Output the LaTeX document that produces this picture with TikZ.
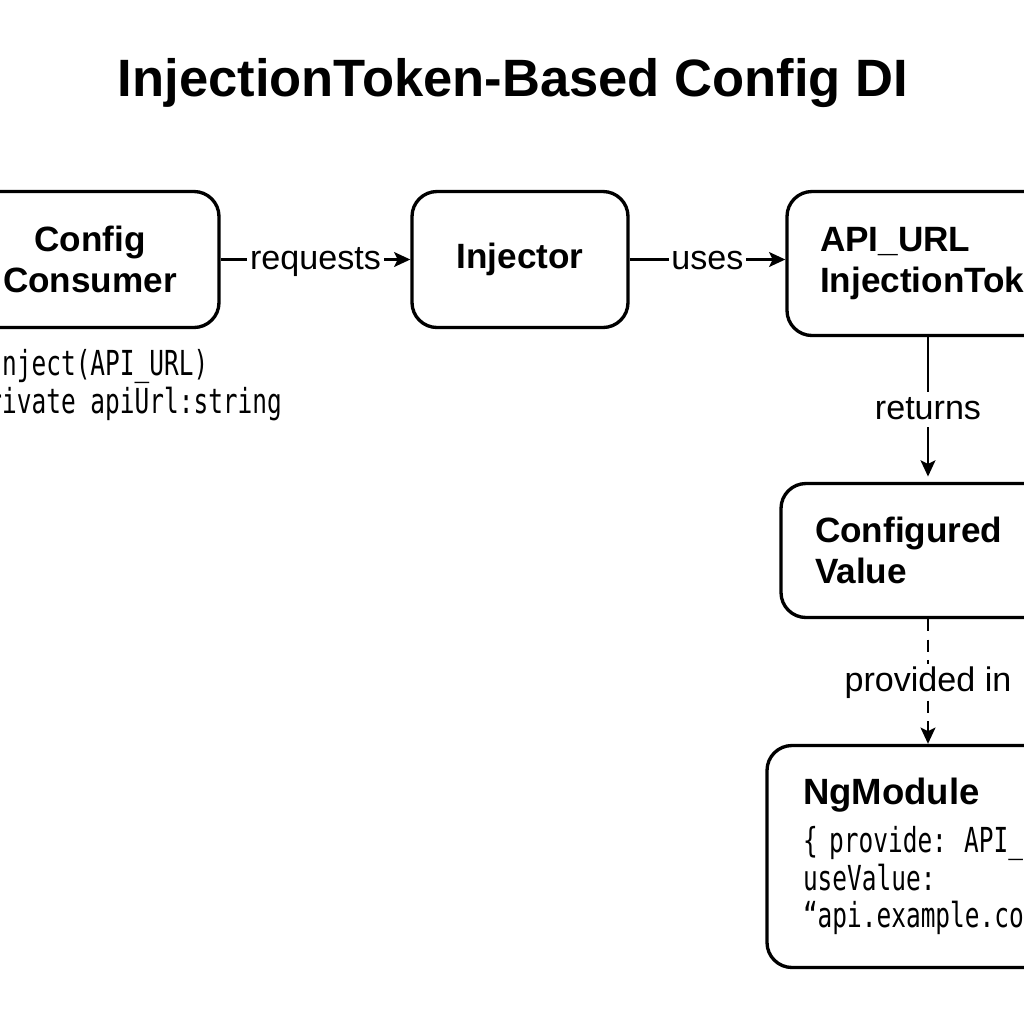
\documentclass[tikz,border=0pt]{standalone}
\usepackage{fontspec}
\setmainfont{Liberation Sans}
\newfontfamily\codefont[FakeStretch=0.71]{DejaVu Sans Mono}
\usepackage{tikz}
\usetikzlibrary{arrows.meta,shapes,positioning}
\newcommand{\cfgcode}{\codefont\fontsize{9.8}{9.8}\selectfont}
\newcommand{\ngcode}{\codefont\fontsize{9.8}{10.7}\selectfont}
\tikzstyle{arrow} = [thick,-{Stealth[length=4.6pt,width=4.2pt,inset=1pt]},color=black]
\tikzstyle{cfgbox} = [rectangle, rounded corners=0.25cm, minimum height=1.36cm, draw=black, line width=0.95pt, font=\bfseries\fontsize{10}{11.7}\selectfont]
\tikzstyle{lbl} = [fill=white, inner sep=0.8pt, text height=0.72em, text depth=0.14em, font=\fontsize{9.7}{11.6}\selectfont]

\begin{document}
\begin{tikzpicture}
\useasboundingbox (0,0) rectangle (10.24,-10.24);
\clip (0,0) rectangle (10.24,-10.24);
% Title
\node (title) at (5.13,-0.835) {\bfseries\fontsize{14.95}{18}\selectfont InjectionToken-Based Config DI};

% Boxes
\node (consumer) [cfgbox, align=center, minimum width=2.58cm] at (0.90,-2.595) {Config\\Consumer};
\node (injector) [cfgbox, right of=consumer, node distance=4.3cm, minimum width=2.16cm] {Injector};
\node (token) [cfgbox, right of=injector, node distance=4.08cm, yshift=-0.04cm, minimum width=2.82cm, minimum height=1.44cm, align=left, text width=2.16cm] {API\_URL\\InjectionToken};
\node (configured) [cfgbox, below of=token, node distance=2.87cm, minimum width=2.94cm, minimum height=1.34cm, align=left, text width=2.26cm] {Configured\\Value};
\node (ngmodule) [cfgbox, below of=configured, node distance=3.06cm, minimum width=3.22cm, minimum height=2.22cm, align=left, text width=2.50cm, font=\ngcode] {{\normalfont\bfseries\fontsize{10.4}{12}\selectfont NgModule}\\[3pt]\mbox{\{ provide: API\_URL,}\\\mbox{useValue:}\\\mbox{“api.example.com” \}}};

% Code under the consumer
\node (consumercode) [anchor=base west, inner sep=0pt, align=left, font=\cfgcode] at (-0.28,-4.13) {@Inject(API\_URL)\\private apiUrl:string};

% Connectors
\draw[arrow] (consumer) -- node[lbl] {requests} (injector);
\draw[arrow] (injector.east) -- node[lbl] {uses} (injector.east -| token.west);
\draw[arrow, shorten >=1.5pt] (token) -- node[lbl] {returns} (configured);
\draw[arrow, dash pattern=on 3.5pt off 2.3pt] (configured) -- node[lbl] {provided in} (ngmodule);
\end{tikzpicture}
\end{document}
